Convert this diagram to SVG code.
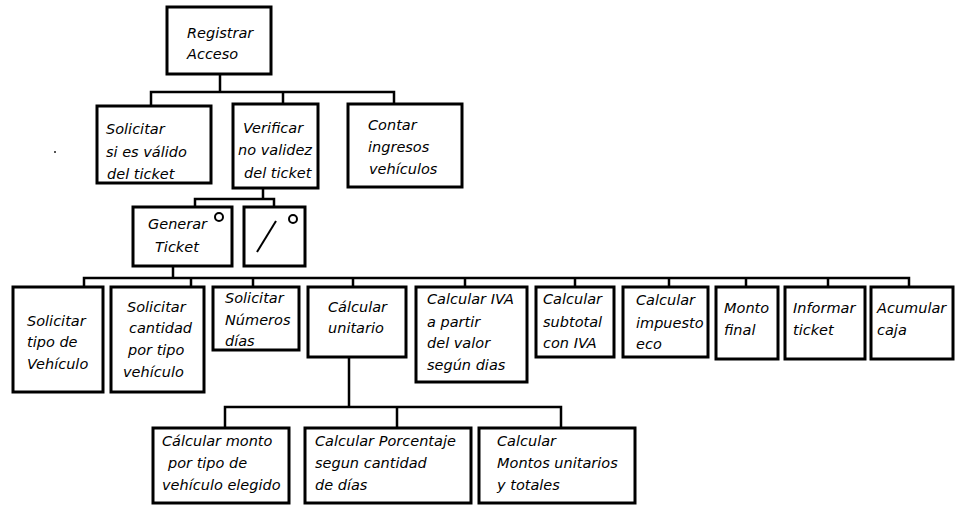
<svg xmlns="http://www.w3.org/2000/svg" width="966" height="508" viewBox="0 0 966 508">
  <style>
    .box { fill: #fff; stroke: #000; stroke-width: 3; }
    .ln { fill: none; stroke: #000; stroke-width: 2.5; stroke-linecap: square; }
    .mark { fill: none; stroke: #000; stroke-width: 2; }
    text { font-family: "DejaVu Sans", "Liberation Sans", sans-serif; font-style: italic; font-size: 14.5px; fill: #000; }
  </style>
  <rect width="966" height="508" fill="#fff"/>
  <rect x="54" y="151" width="2" height="2" fill="#555"/>

  <g id="connectors">
    <path class="ln" d="M220 74V92M151 106V92H394V104M283 92V104"/>
    <path class="ln" d="M263 188V199M195 207V199H274V207"/>
    <path class="ln" d="M173 266V278M84 287V278H909V287M191 278V287M253 278V287M353 278V287M465 278V287M575 278V287M669 278V287M746 278V287M828 278V287"/>
    <path class="ln" d="M349 357V407M225 428V407H561V428M397 407V428"/>
  </g>

  <g id="registrar-acceso">
    <rect class="box" x="167" y="7" width="104" height="67"/>
    <text x="187" y="38">Registrar</text>
    <text x="187" y="59">Acceso</text>
  </g>
  <g id="solicitar-valido">
    <rect class="box" x="97" y="106" width="114" height="77"/>
    <text x="106" y="134">Solicitar</text>
    <text x="106" y="157">si es válido</text>
    <text x="107" y="179">del ticket</text>
  </g>
  <g id="verificar">
    <rect class="box" x="233" y="104" width="85" height="84"/>
    <text x="243" y="133">Verificar</text>
    <text x="238" y="155">no validez</text>
    <text x="244" y="178">del ticket</text>
  </g>
  <g id="contar">
    <rect class="box" x="348" y="104" width="114" height="83"/>
    <text x="368" y="130">Contar</text>
    <text x="368" y="152">ingresos</text>
    <text x="369" y="174">vehículos</text>
  </g>
  <g id="generar-ticket">
    <rect class="box" x="133" y="207" width="99" height="59"/>
    <circle class="mark" cx="219" cy="217" r="4"/>
    <text x="148" y="229">Generar</text>
    <text x="155" y="252">Ticket</text>
  </g>
  <g id="no-generar">
    <rect class="box" x="244" y="207" width="61" height="59"/>
    <line class="mark" x1="257" y1="252" x2="276" y2="221" stroke-width="2.5"/>
    <circle class="mark" cx="293" cy="219" r="4"/>
  </g>
  <g id="solicitar-tipo">
    <rect class="box" x="13" y="287" width="90" height="105"/>
    <text x="27" y="326">Solicitar</text>
    <text x="27" y="347">tipo de</text>
    <text x="27" y="369">Vehículo</text>
  </g>
  <g id="solicitar-cantidad">
    <rect class="box" x="111" y="287" width="93" height="105"/>
    <text x="127" y="312">Solicitar</text>
    <text x="129" y="333">cantidad</text>
    <text x="128" y="355">por tipo</text>
    <text x="123" y="377">vehículo</text>
  </g>
  <g id="solicitar-dias">
    <rect class="box" x="213" y="287" width="86" height="63"/>
    <text x="225" y="303">Solicitar</text>
    <text x="225" y="325">Números</text>
    <text x="225" y="346">días</text>
  </g>
  <g id="calcular-unitario">
    <rect class="box" x="308" y="287" width="98" height="70"/>
    <text x="328" y="312">Cálcular</text>
    <text x="328" y="333">unitario</text>
  </g>
  <g id="calcular-iva">
    <rect class="box" x="416" y="287" width="111" height="95"/>
    <text x="427" y="304">Calcular IVA</text>
    <text x="427" y="327">a partir</text>
    <text x="427" y="348">del valor</text>
    <text x="427" y="370">según dias</text>
  </g>
  <g id="calcular-subtotal">
    <rect class="box" x="536" y="287" width="78" height="70"/>
    <text x="543" y="304">Calcular</text>
    <text x="543" y="327">subtotal</text>
    <text x="543" y="348">con IVA</text>
  </g>
  <g id="calcular-impuesto">
    <rect class="box" x="623" y="287" width="85" height="70"/>
    <text x="636" y="305">Calcular</text>
    <text x="636" y="328">impuesto</text>
    <text x="636" y="349">eco</text>
  </g>
  <g id="monto-final">
    <rect class="box" x="716" y="287" width="62" height="72"/>
    <text x="724" y="313">Monto</text>
    <text x="724" y="335">final</text>
  </g>
  <g id="informar-ticket">
    <rect class="box" x="785" y="287" width="80" height="72"/>
    <text x="793" y="313">Informar</text>
    <text x="793" y="335">ticket</text>
  </g>
  <g id="acumular-caja">
    <rect class="box" x="871" y="287" width="82" height="72"/>
    <text x="877" y="313">Acumular</text>
    <text x="877" y="335">caja</text>
  </g>
  <g id="calcular-monto">
    <rect class="box" x="153" y="428" width="136" height="75"/>
    <text x="162" y="446">Cálcular monto</text>
    <text x="168" y="468">por tipo de</text>
    <text x="162" y="490">vehículo elegido</text>
  </g>
  <g id="calcular-porcentaje">
    <rect class="box" x="305" y="428" width="166" height="75"/>
    <text x="315" y="446">Calcular Porcentaje</text>
    <text x="315" y="468">segun cantidad</text>
    <text x="315" y="490">de días</text>
  </g>
  <g id="calcular-montos">
    <rect class="box" x="479" y="428" width="156" height="75"/>
    <text x="497" y="446">Calcular</text>
    <text x="497" y="468">Montos unitarios</text>
    <text x="497" y="490">y totales</text>
  </g>
</svg>
